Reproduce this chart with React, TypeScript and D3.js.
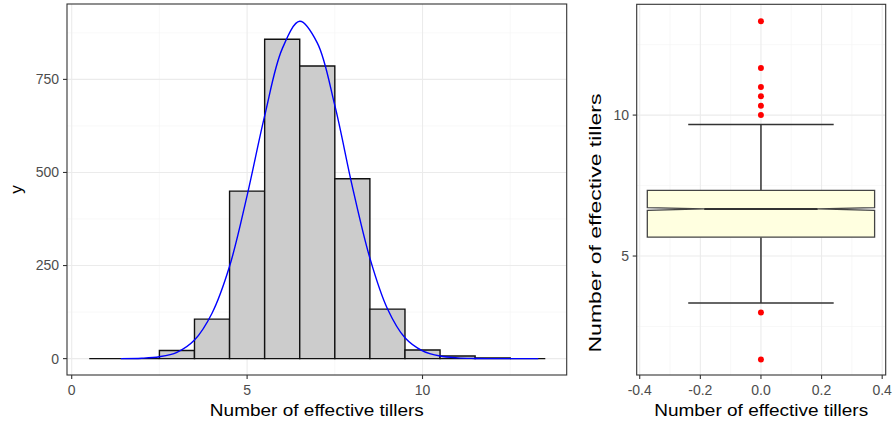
import React from "react";
import * as d3 from "d3";

// ---- Histogram data ----
const binCenters = [1, 2, 3, 4, 5, 6, 7, 8, 9, 10, 11, 12, 13];
const binCounts = [0, 0, 22, 106, 450, 858, 786, 483, 133, 23, 7, 2, 0];
const binWidth = 1;

// Fitted normal curve
const curveX = [1.4, 2, 2.5, 3, 3.5, 4, 4.5, 5, 5.5, 6, 6.5, 7, 7.5, 8, 8.5, 9, 9.5, 10, 10.5, 11, 11.5, 12, 13.3];
const curveY = [0, 1, 5, 17, 50, 122, 248, 438, 652, 832, 906, 848, 680, 462, 270, 134, 56, 21, 7, 2, 0.5, 0, 0];

const histXTicks = [0, 5, 10];
const histXMinor = [2.5, 7.5, 12.5];
const histYTicks = [0, 250, 500, 750];
const histYMinor = [125, 375, 625, 875];

// ---- Boxplot data ----
const boxStats = { lowerWhisker: 3.33, q1: 5.67, median: 6.67, q3: 7.33, upperWhisker: 9.67, notchLow: 6.62, notchHigh: 6.72 };
const outliers = [13.33, 11.67, 11.0, 10.67, 10.33, 10.0, 3.0, 1.33];
const boxXTicks = [-0.4, -0.2, 0.0, 0.2, 0.4];
const boxXMinor = [-0.3, -0.1, 0.1, 0.3];
const boxYTicks = [5, 10];
const boxYMinor = [2.5, 7.5, 12.5];

const FONT = "'Liberation Sans', Arial, Helvetica, sans-serif";
const GRID = "#ebebeb";
const MINOR = "#f4f4f4";
const AXIS = "#333333";
const TICKTXT = "#4d4d4d";

export default function App() {
  // left panel
  const L = { x0: 67, x1: 566.7, y0: 4, y1: 375 };
  const hx = d3.scaleLinear().domain([-0.134, 14.11]).range([L.x0, L.x1]);
  const hy = d3.scaleLinear().domain([-44, 952.5]).range([L.y1, L.y0]);

  // right panel
  const R = { x0: 636.7, x1: 885.7, y0: 4.3, y1: 375 };
  const bx = d3.scaleLinear().domain([-0.41, 0.4116]).range([R.x0, R.x1]);
  const by = d3.scaleLinear().domain([0.78, 13.93]).range([R.y1, R.y0]);

  const line = d3
    .line<number>()
    .x((_, i) => hx(curveX[i]))
    .y((d) => hy(d))
    .curve(d3.curveCatmullRom.alpha(0.5));

  const boxHalf = 0.375;
  const notchHalf = 0.1875;
  const s = boxStats;
  const boxPts: [number, number][] = [
    [-boxHalf, s.q1],
    [-boxHalf, s.notchLow],
    [-notchHalf, s.median],
    [-boxHalf, s.notchHigh],
    [-boxHalf, s.q3],
    [boxHalf, s.q3],
    [boxHalf, s.notchHigh],
    [notchHalf, s.median],
    [boxHalf, s.notchLow],
    [boxHalf, s.q1],
  ];
  const boxPath = "M" + boxPts.map(([x, y]) => `${bx(x)},${by(y)}`).join("L") + "Z";
  const capHalf = 0.24;

  const fmtBox = (v: number) => (Math.abs(v) < 1e-9 ? "0.0" : v.toFixed(1));

  const barPath = (c: number, n: number) => {
    const xa = hx(c - binWidth / 2);
    const xb = hx(c + binWidth / 2);
    const ya = hy(0);
    const yb = hy(n);
    return `M${xa},${ya}L${xa},${yb}L${xb},${yb}L${xb},${ya}Z`;
  };

  return (
    <svg width={893} height={425} style={{ position: "absolute", left: 0, top: 0, background: "#fff" }} fontFamily={FONT}>
      <rect x={0} y={0} width={893} height={425} fill="#fff" />
      {/* ===== Left panel ===== */}
      <clipPath id="clipL">
        <rect x={L.x0} y={L.y0} width={L.x1 - L.x0} height={L.y1 - L.y0} />
      </clipPath>
      <g clipPath="url(#clipL)">
        {histXMinor.map((v) => (
          <line key={"hxm" + v} x1={hx(v)} x2={hx(v)} y1={L.y0} y2={L.y1} stroke={MINOR} strokeWidth={0.6} />
        ))}
        {histYMinor.map((v) => (
          <line key={"hym" + v} y1={hy(v)} y2={hy(v)} x1={L.x0} x2={L.x1} stroke={MINOR} strokeWidth={0.6} />
        ))}
        {histXTicks.map((v) => (
          <line key={"hxg" + v} x1={hx(v)} x2={hx(v)} y1={L.y0} y2={L.y1} stroke={GRID} strokeWidth={1.1} />
        ))}
        {histYTicks.map((v) => (
          <line key={"hyg" + v} y1={hy(v)} y2={hy(v)} x1={L.x0} x2={L.x1} stroke={GRID} strokeWidth={1.1} />
        ))}
        {binCenters.map((c, i) => (
          <path key={"bar" + c} d={barPath(c, binCounts[i])} fill="#cccccc" stroke="#111" strokeWidth={1.4} />
        ))}
        <path d={line(curveY) || ""} fill="none" stroke="#0000ff" strokeWidth={1.4} />
      </g>
      <rect x={L.x0} y={L.y0} width={L.x1 - L.x0} height={L.y1 - L.y0} fill="none" stroke={AXIS} strokeWidth={1.1} />
      {histXTicks.map((v) => (
        <g key={"hxt" + v}>
          <line x1={hx(v)} x2={hx(v)} y1={L.y1} y2={L.y1 + 4} stroke={AXIS} strokeWidth={1.1} />
          <text x={hx(v)} y={395} fontSize={14} fill={TICKTXT} textAnchor="middle">
            {v}
          </text>
        </g>
      ))}
      {histYTicks.map((v) => (
        <g key={"hyt" + v}>
          <line x1={L.x0 - 4} x2={L.x0} y1={hy(v)} y2={hy(v)} stroke={AXIS} strokeWidth={1.1} />
          <text x={59} y={hy(v)} dy="0.35em" fontSize={14} fill={TICKTXT} textAnchor="end">
            {v}
          </text>
        </g>
      ))}
      <text x={(L.x0 + L.x1) / 2} y={416} fontSize={17} fill="#000" textAnchor="middle" textLength={214} lengthAdjust="spacingAndGlyphs">
        Number of effective tillers
      </text>
      <text transform={`translate(22,${(L.y0 + L.y1) / 2}) rotate(-90)`} fontSize={17} fill="#000" textAnchor="middle">
        y
      </text>

      {/* ===== Right panel ===== */}
      <clipPath id="clipR">
        <rect x={R.x0} y={R.y0} width={R.x1 - R.x0} height={R.y1 - R.y0} />
      </clipPath>
      <g clipPath="url(#clipR)">
        {boxXMinor.map((v) => (
          <line key={"bxm" + v} x1={bx(v)} x2={bx(v)} y1={R.y0} y2={R.y1} stroke={MINOR} strokeWidth={0.6} />
        ))}
        {boxYMinor.map((v) => (
          <line key={"bym" + v} y1={by(v)} y2={by(v)} x1={R.x0} x2={R.x1} stroke={MINOR} strokeWidth={0.6} />
        ))}
        {boxXTicks.map((v) => (
          <line key={"bxg" + v} x1={bx(v)} x2={bx(v)} y1={R.y0} y2={R.y1} stroke={GRID} strokeWidth={1.1} />
        ))}
        {boxYTicks.map((v) => (
          <line key={"byg" + v} y1={by(v)} y2={by(v)} x1={R.x0} x2={R.x1} stroke={GRID} strokeWidth={1.1} />
        ))}
        {/* error bar caps */}
        <line x1={bx(-capHalf)} x2={bx(capHalf)} y1={by(s.upperWhisker)} y2={by(s.upperWhisker)} stroke={AXIS} strokeWidth={1.5} />
        <line x1={bx(-capHalf)} x2={bx(capHalf)} y1={by(s.lowerWhisker)} y2={by(s.lowerWhisker)} stroke={AXIS} strokeWidth={1.5} />
        {/* whiskers */}
        <line x1={bx(0)} x2={bx(0)} y1={by(s.upperWhisker)} y2={by(s.q3)} stroke={AXIS} strokeWidth={1.5} />
        <line x1={bx(0)} x2={bx(0)} y1={by(s.lowerWhisker)} y2={by(s.q1)} stroke={AXIS} strokeWidth={1.5} />
        {/* box */}
        <path d={boxPath} fill="#ffffe0" stroke="#444" strokeWidth={1.3} />
        <line x1={bx(-notchHalf)} x2={bx(notchHalf)} y1={by(s.median)} y2={by(s.median)} stroke={AXIS} strokeWidth={2} />
        {outliers.map((v, i) => (
          <circle key={"o" + i} cx={bx(0)} cy={by(v)} r={3} fill="#ff0000" />
        ))}
      </g>
      <rect x={R.x0} y={R.y0} width={R.x1 - R.x0} height={R.y1 - R.y0} fill="none" stroke={AXIS} strokeWidth={1.1} />
      {boxXTicks.map((v) => (
        <g key={"bxt" + v}>
          <line x1={bx(v)} x2={bx(v)} y1={R.y1} y2={R.y1 + 4} stroke={AXIS} strokeWidth={1.1} />
          <text x={bx(v)} y={395} fontSize={14} fill={TICKTXT} textAnchor="middle">
            {fmtBox(v)}
          </text>
        </g>
      ))}
      {boxYTicks.map((v) => (
        <g key={"byt" + v}>
          <line x1={R.x0 - 4} x2={R.x0} y1={by(v)} y2={by(v)} stroke={AXIS} strokeWidth={1.1} />
          <text x={629} y={by(v)} dy="0.35em" fontSize={14} fill={TICKTXT} textAnchor="end">
            {v}
          </text>
        </g>
      ))}
      <text x={(R.x0 + R.x1) / 2} y={416} fontSize={17} fill="#000" textAnchor="middle" textLength={214} lengthAdjust="spacingAndGlyphs">
        Number of effective tillers
      </text>
      <text transform={`translate(601,223) rotate(-90)`} fontSize={16} fill="#000" textAnchor="middle" textLength={259} lengthAdjust="spacingAndGlyphs">
        Number of effective tillers
      </text>
    </svg>
  );
}
